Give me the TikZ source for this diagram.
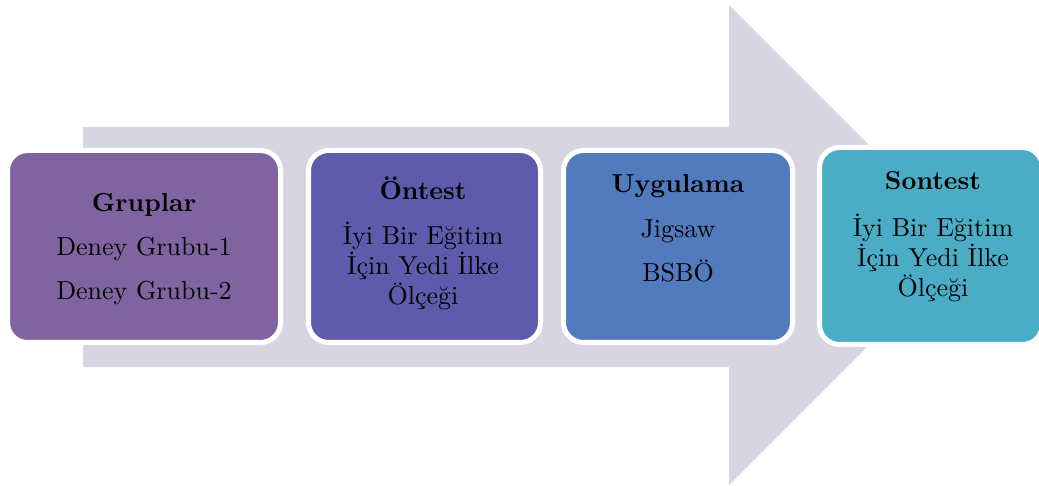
\documentclass[tikz,border=0pt]{standalone}
\usepackage{fontspec}
\setmainfont{lmroman10-regular.otf}[BoldFont=lmroman10-bold.otf]
\usepackage{tikz}
\usetikzlibrary{arrows,shapes}
\definecolor{arrowbg}{HTML}{D8D5E3}
\definecolor{grupcol}{HTML}{8064A2}
\definecolor{oncol}{HTML}{5F5BAC}
\definecolor{uygcol}{HTML}{527BBD}
\definecolor{soncol}{HTML}{4BACC6}
\tikzstyle{stepbox}=[rectangle,rounded corners=20pt,draw=white,line width=5pt,inner sep=0pt,minimum height=192pt]
\tikzstyle{steptext}=[align=center,anchor=base,inner sep=0pt,font=\fontsize{26}{30}\selectfont]

\begin{document}
\begin{tikzpicture}[x=1pt,y=-1pt]
\useasboundingbox (0,0) rectangle (1039,486);
\fill[arrowbg] (83,127)--(729,127)--(729,5)--(969,245)--(729,485)--(729,367)--(83,367)--cycle;
\node[stepbox,fill=grupcol,minimum width=273pt] (G) at (144,246.5) {};
\node[stepbox,fill=oncol,minimum width=232pt] (O) at (424.5,246.5) {};
\node[stepbox,fill=uygcol,minimum width=229pt] (U) at (678,246.5) {};
\node[stepbox,fill=soncol,minimum width=223pt,minimum height=197pt] (S) at (931,246) {};
% base = last line
\node[steptext] (Gt) at (144,300) {\textbf{Gruplar}\\[14pt]Deney Grubu-1\\[14pt]Deney Grubu-2};
\node[steptext] (Ot) at (423,305) {\textbf{Öntest}\\[15pt]İyi Bir Eğitim\\İçin Yedi İlke\\Ölçeği};
\node[steptext] (Ut) at (678,282) {\textbf{Uygulama}\\[15pt]Jigsaw\\[14pt]BSBÖ};
\node[steptext] (St) at (933,297) {\textbf{Sontest}\\[17pt]İyi Bir Eğitim\\İçin Yedi İlke\\Ölçeği};
\end{tikzpicture}
\end{document}
